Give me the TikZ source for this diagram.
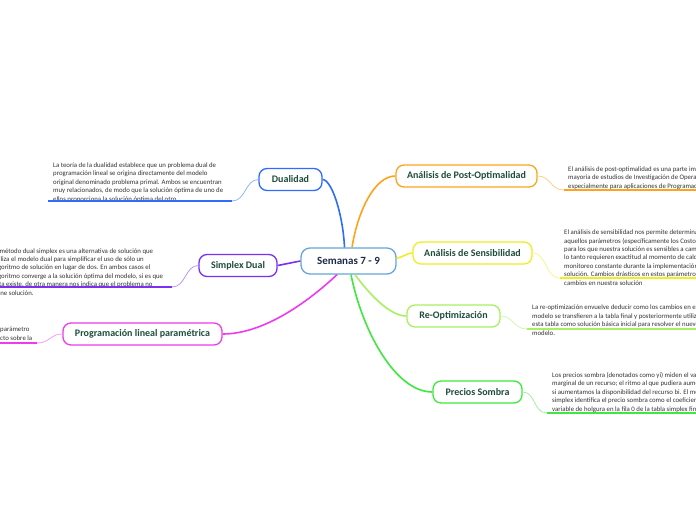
\documentclass[tikz,border=0pt]{standalone}
\usepackage{fontspec}
\setmainfont{Carlito}
\usetikzlibrary{calc}
\definecolor{centerblue}{HTML}{64A6DA}
\definecolor{centertext}{HTML}{1F2B4A}
\definecolor{nodetext}{HTML}{1E4D3C}
\definecolor{bodytext}{HTML}{333333}
\definecolor{dualblue}{HTML}{2F6BFF}
\definecolor{sdpurple}{HTML}{7B2FF2}
\definecolor{plmagenta}{HTML}{EE3BEE}
\definecolor{poorange}{HTML}{FFA31F}
\definecolor{senyellow}{HTML}{EEEE22}
\definecolor{relgreen}{HTML}{A8F060}
\definecolor{psgreen}{HTML}{3EE83E}
\begin{document}
\begin{tikzpicture}[x=1pt,y=-1pt,
  branch/.style={draw=#1, line width=1.3pt, rounded corners=8pt, fill=white,
    minimum height=22pt, inner sep=0pt, text=nodetext,
    font=\fontsize{10}{12}\selectfont\bfseries},
  txt/.style={inner sep=0pt, align=left, text=bodytext,
    font=\fontsize{6.8}{8.4}\selectfont},
  mainlink/.style={draw=#1, line width=1.6pt},
  sublink/.style={draw=#1!55, line width=0.7pt},
  underl/.style={draw=#1, line width=1.8pt}]
\clip (0,0) rectangle (696,520);
\fill[white] (0,0) rectangle (696,520);

% center
\node[draw=centerblue, line width=1.3pt, rounded corners=9pt, fill=white,
  minimum width=95pt, minimum height=26pt, inner sep=0pt, text=centertext,
  font=\fontsize{11}{13}\selectfont\bfseries] (c) at (348.5,261) {Semanas 7 - 9};

% branches
\node[branch=dualblue, minimum width=63pt] (dual) at (290.5,179.5) {Dualidad};
\node[branch=sdpurple, minimum width=78pt] (sd) at (238,265.5) {Simplex Dual};
\node[branch=plmagenta, minimum width=159pt] (pl) at (142.5,334) {Programación lineal paramétrica};
\node[branch=poorange, minimum width=141pt] (po) at (466.5,176) {Análisis de Post-Optimalidad};
\node[branch=senyellow, minimum width=119pt] (sen) at (472.5,253) {Análisis de Sensibilidad};
\node[branch=relgreen, minimum width=93pt] (reo) at (453.5,316) {Re-Optimización};
\node[branch=psgreen, minimum width=89pt] (ps) at (477.5,392) {Precios Sombra};

% main links
\draw[mainlink=dualblue] ($(c.north)+(-4,0)$) .. controls (343,215) and (332,180) .. (dual.east);
\draw[mainlink=poorange] ($(c.north)+(3.5,0)$) .. controls (358,210) and (375,176) .. (po.west);
\draw[mainlink=senyellow] ($(c.east)+(0,-3)$) .. controls (404,257) and (407,253) .. (sen.west);
\draw[mainlink=sdpurple] (c.west) -- (sd.east);
\draw[mainlink=plmagenta] ($(c.south)+(-11.5,0)$) .. controls (310,300) and (265,334) .. (pl.east);
\draw[mainlink=relgreen] ($(c.south)+(6.5,0)$) .. controls (370,295) and (390,316) .. (reo.west);
\draw[mainlink=psgreen] ($(c.south)+(2.5,0)$) .. controls (362,330) and (395,392) .. (ps.west);

% leaf anchors
\coordinate (dA) at (232,201); \coordinate (dB) at (48,201);
\coordinate (sA) at (172,287); \coordinate (sB) at (-5,287);
\coordinate (pA) at (37,343);  \coordinate (pB) at (-5,343);
\coordinate (oA) at (564,190); \coordinate (oB) at (700,190);
\coordinate (eA) at (560,278); \coordinate (eB) at (700,278);
\coordinate (rA) at (527,329); \coordinate (rB) at (700,329);
\coordinate (gA) at (547,413); \coordinate (gB) at (700,413);

% texts (anchor = baseline of last line)
\node[txt, anchor=base west] (tdual) at (53,201) {La teoría de la dualidad establece que un problema dual de\\
programación lineal se origina directamente del modelo\\
original denominado problema primal. Ambos se encuentran\\
muy relacionados, de modo que la solución óptima de uno de\\
ellos proporciona la solución óptima del otro.};

\node[txt, anchor=base west] (tsd) at (-7,295) {El método dual simplex es una alternativa de solución que\\
utiliza el modelo dual para simplificar el uso de sólo un\\
algoritmo de solución en lugar de dos. En ambos casos el\\
algoritmo converge a la solución óptima del modelo, si es que\\
ésta existe, de otra manera nos indica que el problema no\\
tiene solución.};

\node[txt, anchor=base west] (tpl) at (0,340) {parámetro\\
cto sobre la};

\node[txt, anchor=base west] (tpo) at (568,188) {El análisis de post-optimalidad es una parte importante de la\\
mayoría de estudios de Investigación de Operaciones,\\
especialmente para aplicaciones de Programación Lineal.};

\node[txt, anchor=base west] (tsen) at (564,285) {El análisis de sensibilidad nos permite determinar\\
aquellos parámetros (específicamente los Costos\\
para los que nuestra solución es sensibles a cambios\\
lo tanto requieren exactitud al momento de calcularlos\\
monitoreo constante durante la implementación\\
solución. Cambios drásticos en estos parámetros\\
cambios en nuestra solución};

\node[txt, anchor=base west] (treo) at (532,335) {La re-optimización envuelve deducir como los cambios en el\\
modelo se transfieren a la tabla final y posteriormente utilizar\\
esta tabla como solución básica inicial para resolver el nuevo\\
modelo.};

\node[txt, anchor=base west] (tps) at (552,411) {Los precios sombra (denotados como yi) miden el valor\\
marginal de un recurso; el ritmo al que pudiera aumentar\\
si aumentamos la disponibilidad del recurso bi. El método\\
simplex identifica el precio sombra como el coeficiente\\
variable de holgura en la fila 0 de la tabla simplex final};

% leaf links
\draw[sublink=dualblue] (dual.west) .. controls (245,179.5) and (246,201) .. (dA);
\draw[underl=dualblue] (dA) -- (dB);
\draw[sublink=sdpurple] (sd.west) .. controls (185,265.5) and (186,287) .. (sA);
\draw[underl=sdpurple] (sA) -- (sB);
\draw[sublink=plmagenta] (pl.west) .. controls (50,334) and (50,343) .. (pA);
\draw[underl=plmagenta] (pA) -- (pB);
\draw[sublink=poorange] (po.east) .. controls (551,176) and (550,190) .. (oA);
\draw[underl=poorange] (oA) -- (oB);
\draw[sublink=senyellow] (sen.east) .. controls (547,253) and (545,278) .. (eA);
\draw[underl=senyellow] (eA) -- (eB);
\draw[sublink=relgreen] (reo.east) .. controls (514,316) and (513,329) .. (rA);
\draw[underl=relgreen] (rA) -- (rB);
\draw[sublink=psgreen] (ps.east) .. controls (536,392) and (533,413) .. (gA);
\draw[underl=psgreen] (gA) -- (gB);
\end{tikzpicture}
\end{document}
